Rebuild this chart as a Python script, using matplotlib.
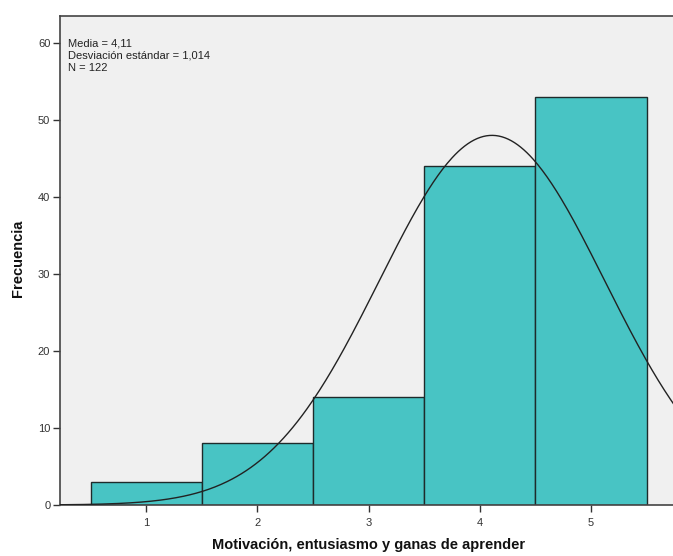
import numpy as np
import matplotlib
matplotlib.use("Agg")
import matplotlib.pyplot as plt

categories = [1, 2, 3, 4, 5]
counts = [3, 8, 14, 44, 53]
mean_val = 4.11
sd_val = 1.014
n_val = 122
yticks = [0, 10, 20, 30, 40, 50, 60]

plt.rcParams['font.family'] = ['Liberation Sans', 'DejaVu Sans']

fig = plt.figure(figsize=(6.73, 5.56), dpi=100)
ax = fig.add_axes([60/673, 1-505/556, 1-60/673+0.002, (505-16)/556])
ax.set_facecolor('#F0F0F0')

ax.bar(categories, counts, width=1.0, color='#48C4C4', edgecolor='#1e2b2b', linewidth=1.0, zorder=2)

xs = np.linspace(0.2, 5.8, 400)
ys = n_val * 1.0 / (sd_val * np.sqrt(2*np.pi)) * np.exp(-0.5*((xs-mean_val)/sd_val)**2)
ax.plot(xs, ys, color='#222222', linewidth=1.0, zorder=3)

ax.set_xlim(0.225, 5.75)
ax.set_ylim(0, 63.5)
ax.set_xticks(categories)
ax.set_yticks(yticks)
ax.tick_params(axis='both', direction='out', length=5, width=1, color='#333333',
               labelsize=8, labelcolor='#333333')
ax.tick_params(axis='x', pad=4)
ax.tick_params(axis='y', pad=2)
for s in ['left', 'top', 'bottom', 'right']:
    ax.spines[s].set_color('#444444')
    ax.spines[s].set_linewidth(1.2)

ax.text(0.013, 0.955, "Media = 4,11\nDesviación estándar = 1,014\nN = 122",
        transform=ax.transAxes, ha='left', va='top', fontsize=8, color='#222222',
        linespacing=1.3)

fig.text(369/673, 1-545/556, "Motivación, entusiasmo y ganas de aprender", fontsize=10.5,
         fontweight='bold', ha='center', va='center', color='#111111')
fig.text(18/673, 1-258/556, "Frecuencia", fontsize=10.5, fontweight='bold', rotation=90,
         ha='center', va='center', color='#111111')

fig.savefig("out.png", dpi=100)
